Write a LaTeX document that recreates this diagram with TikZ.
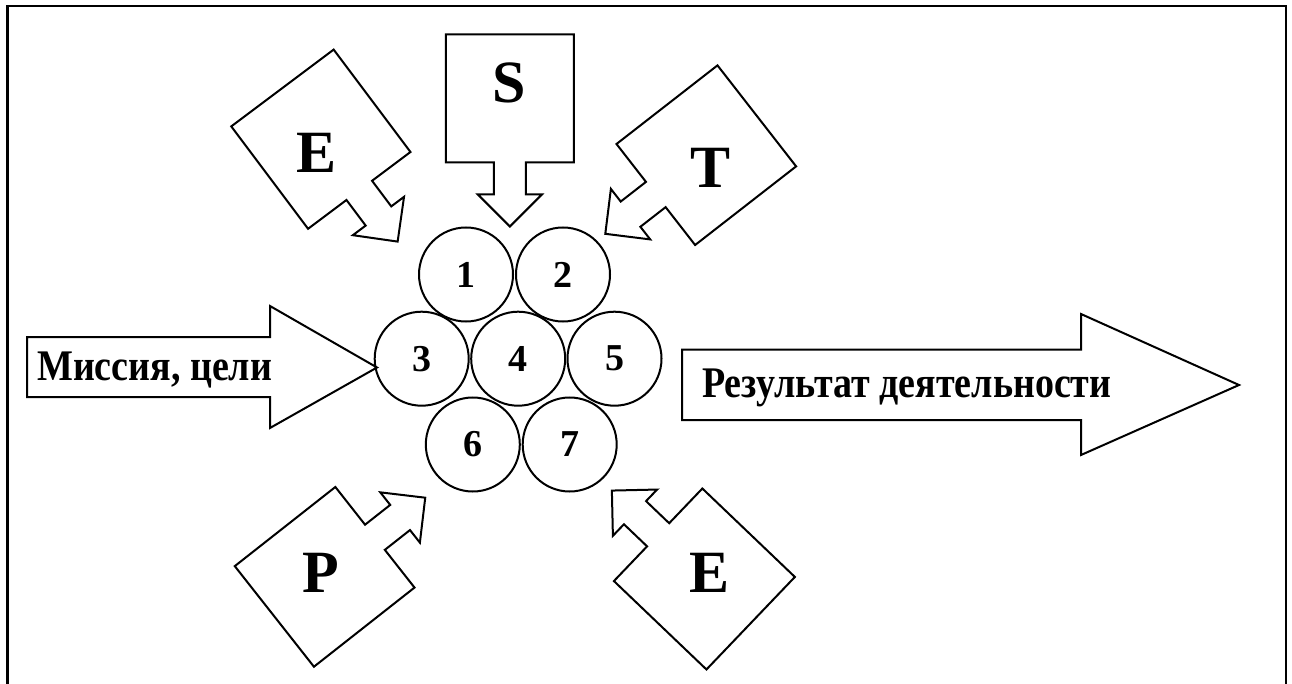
\documentclass[tikz,border=0pt]{standalone}
\usepackage{fontspec}
\setmainfont{Liberation Serif}
\begin{document}
\begin{tikzpicture}[x=1pt,y=-1pt,line join=miter]
\tikzset{
  frameline/.style={line width=2.5pt},
  shapeline/.style={draw=black,line width=2pt,fill=white},
  ball/.style={circle,draw,line width=2pt,minimum size=94pt,inner sep=0pt,
    font=\fontsize{38}{40}\selectfont\bfseries},
  bigletter/.style={font=\fontsize{60}{62}\selectfont\bfseries,inner sep=0pt},
  arrowtext/.style={font=\fontsize{38}{42}\selectfont\bfseries,inner sep=0pt,anchor=base west},
  callout/.pic={
    \draw[shapeline] (-64,-64) -- (64,-64) -- (64,-16) -- (96,-16) -- (96,-32)
      -- (128,0) -- (96,32) -- (96,16) -- (64,16) -- (64,64) -- (-64,64) -- cycle;
  }
}
\newcommand{\tallword}[1]{\scalebox{1}[1.15]{#1}}
\useasboundingbox (0,0) rectangle (1292,684);

% open frame
\draw[frameline] (7.5,684) -- (7.5,6) -- (1286,6) -- (1286,684);

% factor boxes with arrows towards the centre
\pic[rotate=-53.13] at (320.85,139.2) {callout};
\pic[rotate=-90]    at (509.85,98.5)  {callout};
\pic[rotate=-142.1] at (706.3,155.2)  {callout};
\pic[rotate=38.2]   at (324.65,576.85) {callout};
\pic[rotate=136.3]  at (704.4,579)    {callout};

\node[bigletter] (lE1) at (316.3,153.3) {E};
\node[bigletter] (lS)  at (509.5,82.5)  {S};
\node[bigletter] (lT)  at (710,168.3)   {T};
\node[bigletter] (lP)  at (321.2,573)   {P};
\node[bigletter] (lE2) at (709.2,573)   {E};

% input and output arrows
\draw[shapeline] (27,337) -- (270,337) -- (270,306) -- (377,367.5)
  -- (270,428) -- (270,397) -- (27,397) -- cycle;
\draw[shapeline] (682,349.5) -- (1081,349.5) -- (1081,314) -- (1239,385)
  -- (1081,455) -- (1081,420) -- (682,420) -- cycle;
\node[arrowtext] (mission) at (37,380)  {\tallword{Миссия, цели}};
\node[arrowtext] (result)  at (702,397) {\tallword{Результат деятельности}};

% the seven elements
\node[ball] (c1) at (466,274.5)   {1};
\node[ball] (c2) at (563,274.5)   {2};
\node[ball] (c3) at (421.7,358.7) {3};
\node[ball] (c4) at (518.2,358.7) {4};
\node[ball] (c5) at (614.5,358.7) {5};
\node[ball] (c6) at (472.8,444.5) {6};
\node[ball] (c7) at (569.7,444.5) {7};
\end{tikzpicture}
\end{document}
